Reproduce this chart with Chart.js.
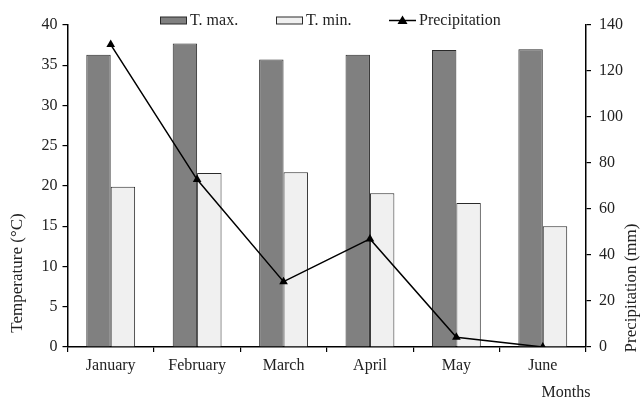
<!DOCTYPE html>
<html><head><meta charset="utf-8">
<script src="https://cdn.jsdelivr.net/npm/chart.js@4.4.1/dist/chart.umd.min.js"></script>
<style>html,body{margin:0;padding:0;background:#fff}#wrap{width:642px;height:400px;position:relative}</style>
</head><body><div id="wrap"><canvas id="c"></canvas></div>
<script>
const months = ['January', 'February', 'March', 'April', 'May', 'June'];
const tMax = [36.3, 37.7, 35.7, 36.3, 36.9, 37.0];
const tMin = [19.9, 21.6, 21.7, 19.1, 17.9, 15.0];
const precipitation = [131.5, 72.8, 28.4, 47.0, 4.2, 0];
const tempRange = [0, 40, 5];
const precipRange = [0, 140, 20];
const seriesNames = ['T. max.', 'T. min.', 'Precipitation'];
const axisTitles = {y: 'Temperature (°C)', y1: 'Precipitation (mm)', x: 'Months'};

const FONT = '"Liberation Serif", "Times New Roman", serif';
const TXT = '#222';

const annotations = {
  id: 'annotations',
  afterDraw(chart) {
    const ctx = chart.ctx;
    const ca = chart.chartArea;
    ctx.save();
    ctx.fillStyle = TXT;
    ctx.textAlign = 'center';
    ctx.textBaseline = 'middle';
    ctx.font = '17px ' + FONT;
    // left title
    ctx.save();
    ctx.translate(18, ca.bottom - 74);
    ctx.rotate(-Math.PI / 2);
    ctx.fillText(axisTitles.y, 0, 0);
    ctx.restore();
    // right title
    ctx.save();
    ctx.translate(632, ca.bottom - 59);
    ctx.rotate(-Math.PI / 2);
    ctx.fillText(axisTitles.y1, 0, 0);
    ctx.restore();
    ctx.font = '16px ' + FONT;
    // x title
    ctx.fillText(axisTitles.x, 566, 393);

    // legend
    const ly = 20.5;
    const ds = chart.data.datasets;
    const items = [
      {x: 160, ds: ds[1]},
      {x: 276, ds: ds[2]},
      {x: 389, ds: ds[0]}
    ];
    ctx.textAlign = 'left';
    items.forEach(it => {
      const d = it.ds;
      if (d.type === 'line') {
        ctx.strokeStyle = d.borderColor;
        ctx.lineWidth = 1.5;
        ctx.beginPath();
        ctx.moveTo(it.x, ly);
        ctx.lineTo(it.x + 27, ly);
        ctx.stroke();
        ctx.fillStyle = d.pointBackgroundColor;
        const cx = it.x + 13.5, r = 5;
        ctx.beginPath();
        ctx.moveTo(cx, ly - r);
        ctx.lineTo(cx + r, ly + r * 0.7);
        ctx.lineTo(cx - r, ly + r * 0.7);
        ctx.closePath();
        ctx.fill();
      } else {
        ctx.fillStyle = d.backgroundColor;
        ctx.strokeStyle = d.borderColor;
        ctx.lineWidth = 1;
        ctx.fillRect(it.x, ly - 3.5, 27, 7);
        ctx.strokeRect(it.x + 0.5, ly - 3.5, 26, 7);
      }
      ctx.fillStyle = TXT;
      ctx.fillText(d.label, it.x + 30, ly);
    });
    ctx.restore();
  }
};

const tickFont = {family: FONT, size: 16};

new Chart(document.getElementById('c'), {
  type: 'bar',
  data: {
    labels: months,
    datasets: [
      {
        type: 'line', label: seriesNames[2], data: precipitation, yAxisID: 'y1',
        borderColor: '#000', borderWidth: 1.5, backgroundColor: '#000',
        pointStyle: 'triangle', pointRadius: 5, pointBackgroundColor: '#000',
        pointBorderColor: '#000', pointBorderWidth: 0, tension: 0, order: 0
      },
      {
        label: seriesNames[0], data: tMax, yAxisID: 'y',
        backgroundColor: '#808080', borderColor: '#2a2a2a', borderWidth: 1,
        categoryPercentage: 0.565, barPercentage: 1.0, order: 1
      },
      {
        label: seriesNames[1], data: tMin, yAxisID: 'y',
        backgroundColor: '#f0f0f0', borderColor: '#2a2a2a', borderWidth: 1,
        categoryPercentage: 0.565, barPercentage: 1.0, order: 1
      }
    ]
  },
  options: {
    responsive: true, maintainAspectRatio: false, animation: false,
    layout: {padding: {top: 25, left: 0, right: 0, bottom: 0}},
    plugins: {legend: {display: false}, tooltip: {enabled: false}},
    scales: {
      x: {
        offset: true,
        grid: {display: true, drawOnChartArea: false, drawTicks: true, tickLength: 5, color: '#000', lineWidth: 1.2, offset: true},
        border: {display: true, color: '#000', width: 1.5},
        ticks: {font: tickFont, color: TXT, padding: 4, maxRotation: 0},
        afterFit: s => { s.height = 53; }
      },
      y: {
        position: 'left', min: tempRange[0], max: tempRange[1],
        grid: {display: true, drawOnChartArea: false, tickLength: 5, color: '#000', lineWidth: 1.2},
        border: {display: true, color: '#000', width: 1.5},
        ticks: {stepSize: tempRange[2], font: tickFont, color: TXT, padding: 5},
        afterFit: s => { s.width = 67.5; }
      },
      y1: {
        position: 'right', min: precipRange[0], max: precipRange[1],
        grid: {display: true, drawOnChartArea: false, tickLength: 5, color: '#000', lineWidth: 1.2},
        border: {display: true, color: '#000', width: 1.5},
        ticks: {stepSize: precipRange[2], font: tickFont, color: TXT, padding: 8},
        afterFit: s => { s.width = 56; }
      }
    }
  },
  plugins: [annotations]
});
</script>
</body></html>
